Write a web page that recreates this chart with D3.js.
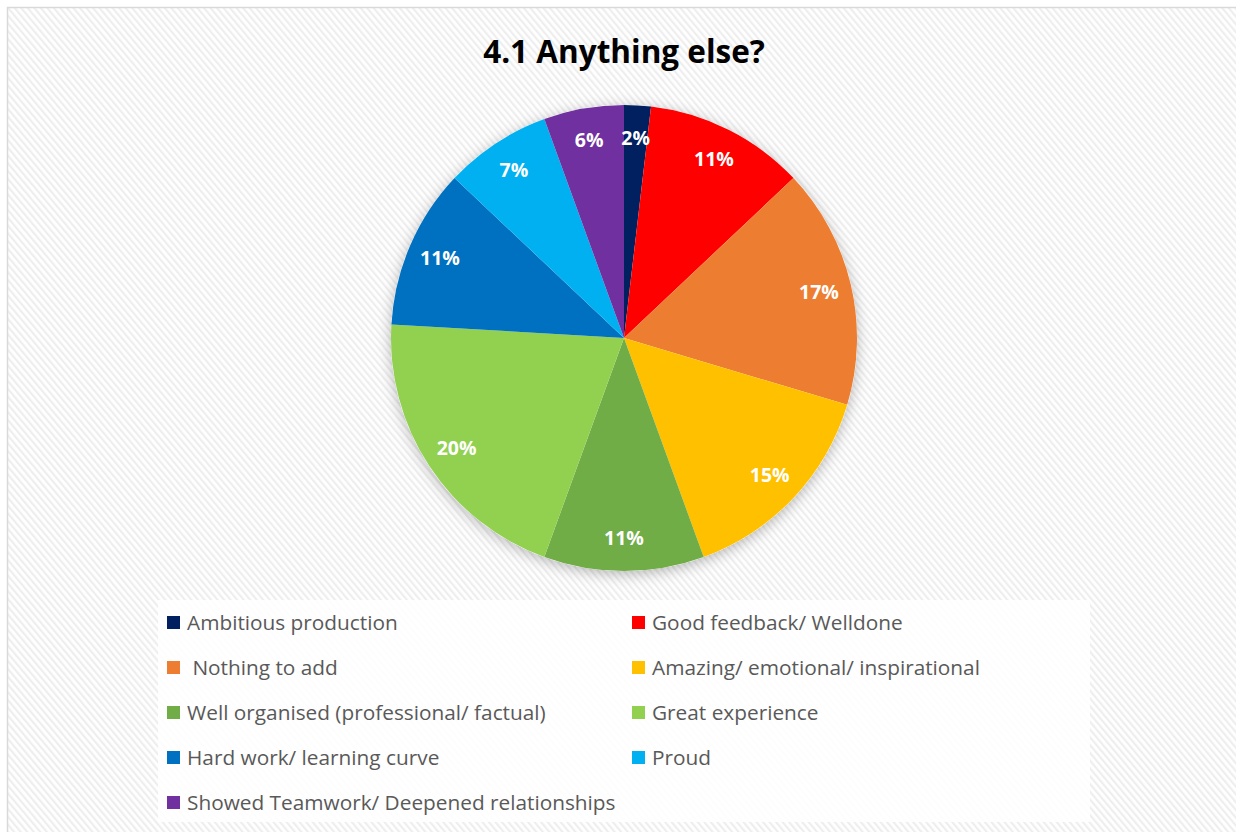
<!DOCTYPE html>
<html>
<head>
<meta charset="utf-8">
<script src="https://cdn.jsdelivr.net/npm/d3@7"></script>
<style>
    body { margin: 0; background: #fff; overflow: hidden; }
    svg { display: block; }
    svg text { white-space: pre; }
</style>
</head>
<body>
<div id="chart"></div>
<script>
// chart data (counts out of 54)
const categories = [
    'Ambitious production',
    'Good feedback/ Welldone',
    ' Nothing to add',
    'Amazing/ emotional/ inspirational',
    'Well organised (professional/ factual)',
    'Great experience',
    'Hard work/ learning curve',
    'Proud',
    'Showed Teamwork/ Deepened relationships'
];
const counts = [1, 6, 9, 8, 6, 11, 6, 4, 3];
const colours = ['#002060', '#ff0000', '#ed7d31', '#ffc000', '#70ad47', '#92d050', '#0070c0', '#00b0f0', '#7030a0'];
const title = '4.1 Anything else?';

const width = 1236;
const height = 832;

const svg = d3.select('#chart')
    .append('svg')
    .attr('width', width)
    .attr('height', height);

const defs = svg.append('defs');

// diagonal hatch of the chart area
const hatch = defs.append('pattern')
    .attr('id', 'hatch')
    .attr('patternUnits', 'userSpaceOnUse')
    .attr('width', 5)
    .attr('height', 5)
    .attr('patternTransform', 'rotate(-40)');
hatch.append('rect').attr('width', 5).attr('height', 5).attr('fill', '#ffffff');
hatch.append('rect').attr('width', 2.2).attr('height', 5).attr('fill', '#eeeeee');

const shadow = defs.append('filter')
    .attr('id', 'shadow')
    .attr('x', '-20%').attr('y', '-20%')
    .attr('width', '140%').attr('height', '140%');
shadow.append('feDropShadow')
    .attr('dx', 0).attr('dy', 3)
    .attr('stdDeviation', 7)
    .attr('flood-color', '#000')
    .attr('flood-opacity', 0.28);

// frame (only top and left edges fall inside the picture)
svg.append('rect')
    .attr('x', 7.5).attr('y', 7.5)
    .attr('width', width + 20).attr('height', height + 20)
    .attr('fill', 'url(#hatch)')
    .attr('stroke', '#d9d9d9')
    .attr('stroke-width', 1.5);

svg.append('text')
    .attr('x', 624)
    .attr('y', 63)
    .attr('text-anchor', 'middle')
    .attr('font-family', 'Open Sans, sans-serif')
    .attr('font-weight', 'bold')
    .attr('font-size', 31.5)
    .attr('fill', '#000')
    .text(title);

// pie
const cx = 624, cy = 338, radius = 233;
const total = d3.sum(counts);
const pct = d3.format('.0%');

const pie = d3.pie().sort(null).value(d => d)(counts);
const arc = d3.arc().innerRadius(0).outerRadius(radius);
const labelArc = d3.arc().innerRadius(radius * 0.86).outerRadius(radius * 0.86);

const pieGroup = svg.append('g').attr('transform', `translate(${cx},${cy})`);

pieGroup.append('circle')
    .attr('r', radius)
    .attr('fill', '#fff')
    .attr('filter', 'url(#shadow)');

pieGroup.selectAll('path')
    .data(pie)
    .enter()
    .append('path')
    .attr('d', arc)
    .attr('fill', (d, i) => colours[i]);

pieGroup.selectAll('text')
    .data(pie)
    .enter()
    .append('text')
    .attr('transform', d => `translate(${labelArc.centroid(d)})`)
    .attr('text-anchor', 'middle')
    .attr('dy', '0.35em')
    .attr('font-family', 'Open Sans, sans-serif')
    .attr('font-weight', 'bold')
    .attr('font-size', 19.5)
    .attr('fill', '#fff')
    .text(d => pct(d.data / total));

// legend
svg.append('rect')
    .attr('x', 158).attr('y', 600)
    .attr('width', 932).attr('height', 222)
    .attr('fill', '#fff')
    .attr('fill-opacity', 0.85);

const legendCol = d3.scaleOrdinal().domain([0, 1]).range([167, 632]);
const legendRow = d3.scaleLinear().domain([0, 1]).range([623, 668]);

const legend = svg.append('g').attr('class', 'legend')
    .selectAll('g')
    .data(categories)
    .enter()
    .append('g')
    .attr('transform', (d, i) => `translate(${legendCol(i % 2)},${legendRow(Math.floor(i / 2))})`);

legend.append('rect')
    .attr('x', 0).attr('y', -7)
    .attr('width', 13).attr('height', 13)
    .attr('fill', (d, i) => colours[i]);

legend.append('text')
    .attr('x', 20)
    .attr('y', 0)
    .attr('dy', '0.35em')
    .attr('font-family', 'Open Sans, sans-serif')
    .attr('font-size', 20.8)
    .attr('fill', '#595959')
    .text(d => d);
</script>
</body>
</html>
